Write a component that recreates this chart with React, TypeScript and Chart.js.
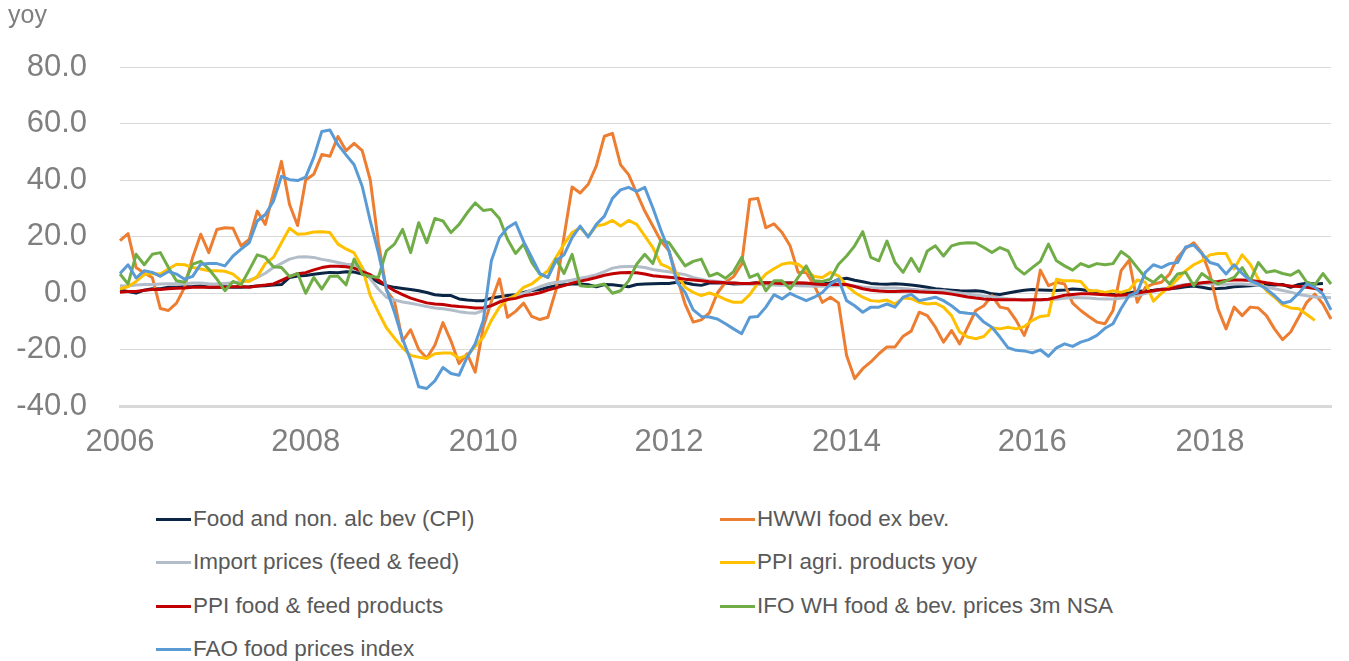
import React, { useEffect, useRef } from 'react';
import { Chart, registerables } from 'chart.js';

Chart.register(...registerables);

// Monthly categories, Jan 2006 – Jul 2018 (151 months)
const months: string[] = [];
for (let y = 2006; y <= 2018; y++) {
  for (let m = 1; m <= 12; m++) {
    if (months.length < 151) months.push(`${y}-${String(m).padStart(2, '0')}`);
  }
}

const yearTickIndex = [0, 23, 45, 68, 90, 113, 135];
const yearTickLabels = ['2006', '2008', '2010', '2012', '2014', '2016', '2018'];

const yMin = -40;
const yMax = 80;
const yStep = 20;

const cpi = [
  1, 0.5, 0, 1, 1.5, 1.5, 2, 2, 2.2, 2.3,
  2.5, 2, 2, 2.2, 2, 2, 2.2, 2.5, 2.6, 2.8,
  3, 5.5, 6, 6.2, 6.6, 7, 7.3, 7.2, 7.5, 7.4,
  6.7, 5.5, 3.8, 2.6, 2, 1.6, 1.2, 0.8, 0.2, -0.6,
  -0.9, -0.9, -2.1, -2.5, -2.7, -2.7, -1.8, -1.3, -0.9, -0.6,
  0.2, 0.9, 1.2, 2, 2.6, 2.9, 3.2, 3.2, 2.9, 2.2,
  3, 2.9, 2.6, 2.2, 3, 3.2, 3.3, 3.4, 3.4, 3.8,
  3.6, 3, 2.7, 3.5, 3.6, 3.5, 3.2, 3.3, 3.4, 3.7,
  3.5, 3.6, 3.6, 3.5, 3.3, 3.2, 3.3, 3.2, 3.5, 4.8,
  5.2, 4.5, 4, 3.4, 3.2, 3.1, 3.3, 3.1, 2.8, 2.5,
  2, 1.5, 1.2, 1, 0.8, 0.7, 0.8, 0.5, -0.3, -0.5,
  0, 0.5, 1, 1.2, 1.1, 1, 0.9, 1.1, 1.4, 1.2,
  0.8, 0.4, 0, -0.5, -0.5, 0, 0.5, 0.8, 1, 1.3,
  1.5, 1.8, 2.2, 2.5, 2, 1.5, 1.6, 1.8, 2.2, 2.4,
  2.6, 2.8, 3, 2.8, 3, 2, 3, 3.5, 3.2, 3.4,
];

const hwwi = [
  18.5, 21, 9, 7, 5.5, -5.5, -6.2, -3.6, 2, 12.6,
  20.8, 14.3, 22.5, 23.1, 22.9, 16.7, 19, 29, 24.3, 35.4,
  46.6, 31.3, 23.9, 40, 42, 49, 48.4, 55.4, 50.4, 53,
  50.4, 40, 18, 1, -3, -17, -13, -20, -23, -18.5,
  -10.5, -17, -25, -21.5, -28, -12, -3, 5, -8.6, -6.5,
  -3.6, -8.3, -9.4, -8.6, 1, 20, 37.5, 35.4, 38.5, 45,
  55.5, 56.5, 45.4, 41.9, 35.4, 29, 23.7, 18.4, 14.9, 5.5,
  -3.9, -10.3, -9.5, -7, 0, 3.8, 5.8, 10.2, 33.1, 33.5,
  23.1, 24.5, 21.4, 16.7, 7.3, 7.3, 2.6, -3.3, -1.5, -3.5,
  -22.1, -30.3, -26.8, -24.4, -21.5, -19.1, -19.1, -15.3, -13.5, -6.8,
  -8, -12.1, -17.4, -13.3, -18, -12.1, -6.2, -4.5, -0.9, -5,
  -5.6, -9.7, -15, -7.6, 8.1, 2.6, 3.8, 3.2, -3.6, -6.2,
  -8.3, -10.3, -10.9, -6.2, 7.9, 11.6, -3.3, 2, 3.2, 3.8,
  6.7, 12.6, 15.8, 17.8, 14.3, 6.7, -5.6, -12.7, -5, -8,
  -5, -5.3, -8, -12.7, -16.5, -13.8, -8.6, -3.3, -0.4, -3.9,
  -9.2,
];

const importPrices = [
  2.6, 2.5, 2.8, 3, 3, 3.2, 3.3, 3.3, 3.3, 3.5,
  3.5, 3.3, 3.2, 3.4, 3.6, 4, 4.5, 5.5, 7, 9,
  10.5, 12, 12.7, 12.8, 12.6, 11.9, 11.4, 10.8, 10.2, 10,
  9, 5, 1.4, -1.5, -2.5, -3.2, -3.6, -4.2, -4.8, -5.3,
  -5.6, -6, -6.6, -7, -7.2, -6.2, -4.5, -2.9, -2.1, -0.9,
  -0.1, 1.1, 2.2, 3.2, 3.8, 4.1, 4.6, 5.2, 5.8, 6.5,
  7.6, 8.8, 9.3, 9.4, 9.4, 9, 8.3, 7.9, 7.5, 7,
  6.5, 5.5, 4.9, 4.3, 4.1, 3.8, 3.6, 3.3, 3.1, 3,
  2.9, 2.8, 2.7, 2.7, 2.6, 2.5, 2.4, 2.4, 2.5, 2.6,
  2.8, 2.5, 2.1, 1.9, 1.7, 1.8, 1.8, 1.6, 1.3, 1.1,
  1, 0.9, 0.8, 0.4, 0, -0.4, -0.8, -1.1, -1.4, -1.7,
  -2, -2.2, -2.3, -2.4, -2.5, -2.4, -2.2, -1.9, -1.6, -1.7,
  -1.8, -2, -2.1, -2.1, -1.9, -1.3, -0.8, -0.2, 0.5, 1.2,
  2, 2.6, 3, 3.3, 3.4, 3.3, 3.1, 3.1, 3.2, 3.2,
  3, 2.7, 2.1, 1.5, 0.9, 0.3, -0.5, -1, -1.4, -1.5,
  -1.7,
];

const ppiAgri = [
  1.4, 2.3, 4.1, 6.5, 6.9, 6.7, 8.5, 10.2, 10, 9,
  8.5, 7.9, 7.9, 7.7, 6.7, 4.3, 4.1, 5.8, 10.4, 12.6,
  17.8, 22.9, 20.8, 21, 21.6, 21.7, 21.4, 17.3, 15.6, 14.2,
  9, -0.9, -6.8, -12.3, -16, -19.4, -22.1, -22.7, -23.2, -21.5,
  -21.2, -21.2, -23.1, -22.1, -18.9, -15.6, -9.7, -5, -2.3, -0.8,
  2, 3.2, 5.5, 7.9, 12.6, 17.3, 21.4, 23.1, 20.2, 23.7,
  24.3, 25.7, 23.7, 25.7, 24.3, 20.2, 16.1, 10.2, 9, 6.7,
  2, 0.2, -0.9, 0, -0.9, -2.3, -3.3, -3.3, -0.6, 3.4,
  6.7, 8.6, 10.2, 10.7, 10.2, 8.1, 5.8, 5.5, 7.3, 6.1,
  2.6, 0.2, -1.5, -2.7, -2.9, -2.5, -3.9, -1.8, -2, -3.3,
  -3.9, -3.6, -5, -8, -13.8, -15.6, -16.2, -15.4, -12.3, -12.7,
  -12.1, -12.7, -11.9, -9.7, -8.3, -8, 4.9, 4.3, 4.3, 4.1,
  0.8, 0.8, 0.2, 0.8, 0.2, 1.1, 4.6, 3.8, -2.9, -0.1,
  2.2, 4.9, 7.9, 10, 11.4, 13.5, 14, 14, 8.5, 13.5,
  10.2, 4.9, 0.8, -1.5, -4.2, -5.3, -5.6, -7.6, -9.7,
];

const ppiFood = [
  0.3, 0.5, 0.5, 1, 1.2, 1.2, 1.5, 1.7, 1.8, 2,
  2, 2, 2, 2, 2.2, 2.3, 2, 2.5, 2.8, 3.2,
  4.5, 5.8, 6.8, 7.2, 8.2, 9, 9.5, 9.5, 9.3, 8.8,
  7.6, 6.5, 4.6, 2.6, 0.8, -0.6, -1.8, -2.7, -3.5, -3.9,
  -4.1, -4.5, -4.8, -5, -5.3, -5.2, -4.5, -3.2, -2.3, -1.9,
  -1, -0.5, 0.1, 1, 1.8, 2.6, 3.5, 4.2, 4.8, 5.5,
  6.3, 6.8, 7.2, 7.3, 7.2, 6.7, 6.1, 5.8, 5.6, 5.3,
  4.9, 4.6, 4.3, 4, 3.8, 3.6, 3.5, 3.4, 3.4, 3.5,
  3.6, 3.5, 3.4, 3.5, 3.6, 3.5, 3.2, 3, 3, 3.1,
  3, 2.3, 1.5, 1, 0.7, 0.5, 0.5, 0.6, 0.6, 0.4,
  0.3, 0.2, 0, -0.4, -0.9, -1.4, -1.8, -2.1, -2.3, -2.4,
  -2.4, -2.4, -2.5, -2.4, -2.4, -2.2, -1.5, -0.8, -0.5, -0.3,
  -0.3, -0.4, -0.6, -0.8, -0.8, -0.5, 0, 0.4, 0.8, 1.2,
  1.4, 2.2, 2.8, 3.2, 3.6, 3.9, 4.1, 4.4, 4.6, 4.6,
  4.4, 4.1, 3.6, 3.2, 2.8, 2.5, 2.3, 2, 1.6, 1,
];

const ifo = [
  6.7, 3.2, 13.7, 10, 13.7, 14.3, 9, 4.3, 3.8, 10.2,
  11.2, 8.5, 4.9, 0.8, 4.1, 2.9, 8.1, 13.5, 12.6, 9.3,
  9, 5.8, 6.9, -0.1, 5.5, 1.4, 5.9, 5.9, 2.9, 12,
  6.7, 5.9, 5.5, 14.9, 17.3, 22.5, 14.3, 24.9, 17.8, 26.4,
  25.5, 21.4, 24.3, 28.4, 31.9, 29.2, 29.6, 26.4, 19, 14,
  17.3, 10.8, 6.7, 5.5, 12, 6.9, 13.7, 2.6, 2.3, 2.6,
  3.2, -0.1, 0.8, 4.3, 10.2, 13.7, 10.4, 18.7, 17.8, 13.7,
  9.6, 11.2, 12, 6, 7, 5.2, 7.6, 12.6, 5.5, 6.7,
  0.8, 4.3, 4.3, 1.4, 5.5, 9.6, 4.3, 4.1, 4.9, 10.2,
  13.1, 16.7, 21.7, 12.6, 11.4, 18.4, 10.8, 7.3, 12.3, 7.6,
  14.9, 16.7, 13.1, 16.7, 17.5, 17.8, 17.7, 16.1, 14.3, 16.1,
  14.9, 9, 6.7, 9, 11.2, 17.3, 11.4, 9.6, 8.1, 10.4,
  9.3, 10.4, 10, 10.4, 14.7, 12.6, 9, 5.5, 3.8, 6.3,
  3.2, 6.7, 7.3, 2.6, 6.9, 4.9, 3.2, 4.3, 5.5, 9,
  4.3, 10.8, 7.3, 7.9, 6.9, 6.3, 7.9, 3.8, 2.9, 6.9,
  3.2,
];

const fao = [
  6.9, 10, 5.3, 7.9, 7.3, 5.9, 7.6, 6.7, 4.9, 5.9,
  10.2, 10.4, 10.4, 9.6, 13.1, 15.5, 17.8, 25.5, 27.8, 32.5,
  41.3, 40.1, 39.8, 41, 48, 57.2, 57.7, 52.5, 48.9, 45.4,
  37.8, 25.5, 14.3, 1.4, -6.8, -16.2, -23.8, -33.2, -33.8, -31.1,
  -26.4, -28.5, -29.1, -22.7, -18, -9.7, 11.4, 19.6, 23.1, 24.9,
  18.2, 12.6, 6.9, 5.5, 11.4, 13.5, 19.6, 23.7, 19.8, 24.3,
  27.2, 33.5, 36.5, 37.4, 36, 37.4, 30.2, 22.2, 14.9, 3.8,
  0.2, -6, -8.3, -8.5, -9.2, -10.9, -12.7, -14.4, -8.6, -8.3,
  -5, -0.6, -2.1, -0.1, -1.5, -2.7, -1.5, 0.2, 3.2, 4.9,
  -2.7, -4.5, -6.8, -5, -5, -3.9, -5, -1.5, -0.5, -2.7,
  -2.1, -1.5, -2.7, -4.5, -6.8, -7.2, -7.4, -10.3, -12.1, -15.6,
  -19.4, -20.3, -20.5, -21.2, -20.1, -22.4, -19.4, -18, -18.9, -17.4,
  -16.5, -15, -12.5, -10.9, -5.5, -0.9, 0.2, 7.3, 10, 9,
  10.4, 10.8, 16.3, 17, 14, 10.8, 10, 6.7, 10, 6.9,
  4.3, 3.2, 1.4, -0.9, -3.6, -2.9, -0.1, 3.2, 2, -0.4,
  -6,
];

const seriesLabels = [
  'Food and non. alc bev (CPI)',
  'HWWI food ex bev.',
  'Import prices (feed & feed)',
  'PPI agri. products yoy',
  'PPI food & feed products',
  'IFO WH food & bev. prices 3m NSA',
  'FAO food prices index',
];
const seriesColors = ['#0b2545', '#ed7d31', '#b3bdc9', '#ffc000', '#c00000', '#70ad47', '#5b9bd5'];
const seriesData = [cpi, hwwi, importPrices, ppiAgri, ppiFood, ifo, fao];

const FONT = '"Liberation Sans", Arial, Helvetica, sans-serif';

// legend layout: two columns, four rows
const legendCols = [156, 720];
const legendRows = [519, 562, 606, 649];

export default function App() {
  const canvasRef = useRef<HTMLCanvasElement | null>(null);

  useEffect(() => {
    const canvas = canvasRef.current;
    if (!canvas) return;
    const chart = new Chart(canvas, {
      type: 'line',
      data: {
        labels: months,
        datasets: seriesData.map((d, i) => ({
          label: seriesLabels[i],
          data: d,
          borderColor: seriesColors[i],
          backgroundColor: seriesColors[i],
          borderWidth: 3,
          pointRadius: 0,
          pointHoverRadius: 0,
          tension: 0,
          fill: false,
          order: seriesData.length - i,
          borderJoinStyle: 'round' as const,
        })),
      },
      options: {
        animation: false,
        responsive: false,
        devicePixelRatio: 1,
        layout: { padding: { left: 0, right: 5.5, top: 67, bottom: 0 } },
        plugins: {
          legend: { display: false },
          tooltip: { enabled: false },
          title: { display: false },
        },
        scales: {
          x: {
            type: 'category',
            offset: false,
            grid: { display: false, drawTicks: false },
            border: { display: true, color: '#d9d9d9', width: 3 },
            ticks: {
              autoSkip: false,
              maxRotation: 0,
              minRotation: 0,
              padding: 18,
              color: '#7f7f7f',
              font: { family: FONT, size: 31 },
              callback: (_v: any, idx: number) => {
                const j = yearTickIndex.indexOf(idx);
                return j >= 0 ? yearTickLabels[j] : '';
              },
            },
            afterFit: (s: any) => {
              s.height = 74;
            },
          },
          y: {
            min: yMin,
            max: yMax,
            grid: { color: '#d9d9d9', lineWidth: 1, drawTicks: false },
            border: { display: false },
            ticks: {
              stepSize: yStep,
              padding: 33,
              color: '#7f7f7f',
              font: { family: FONT, size: 31 },
              callback: (v: any) => Number(v).toFixed(1),
            },
            afterFit: (s: any) => {
              s.width = 120;
            },
          },
        },
      },
    });
    return () => chart.destroy();
  }, []);

  return (
    <div style={{ position: 'absolute', left: 0, top: 0, width: 1349, height: 661, background: '#fff', fontFamily: FONT }}>
      <canvas ref={canvasRef} width={1349} height={480} style={{ position: 'absolute', left: 0, top: 0, width: 1349, height: 480 }} />
      <div style={{ position: 'absolute', left: 8, top: 2, fontSize: 25, lineHeight: '25px', color: '#7f7f7f' }}>yoy</div>
      {seriesLabels.map((lab, i) => {
        const col = i % 2;
        const row = Math.floor(i / 2);
        return (
          <div
            key={lab}
            style={{
              position: 'absolute',
              left: legendCols[col],
              top: legendRows[row] - 15,
              height: 30,
              display: 'flex',
              alignItems: 'center',
              whiteSpace: 'nowrap',
            }}
          >
            <span style={{ display: 'inline-block', width: 35, height: 3, background: seriesColors[i] }} />
            <span style={{ marginLeft: 2, fontSize: 22.5, color: '#595959' }}>{lab}</span>
          </div>
        );
      })}
    </div>
  );
}
